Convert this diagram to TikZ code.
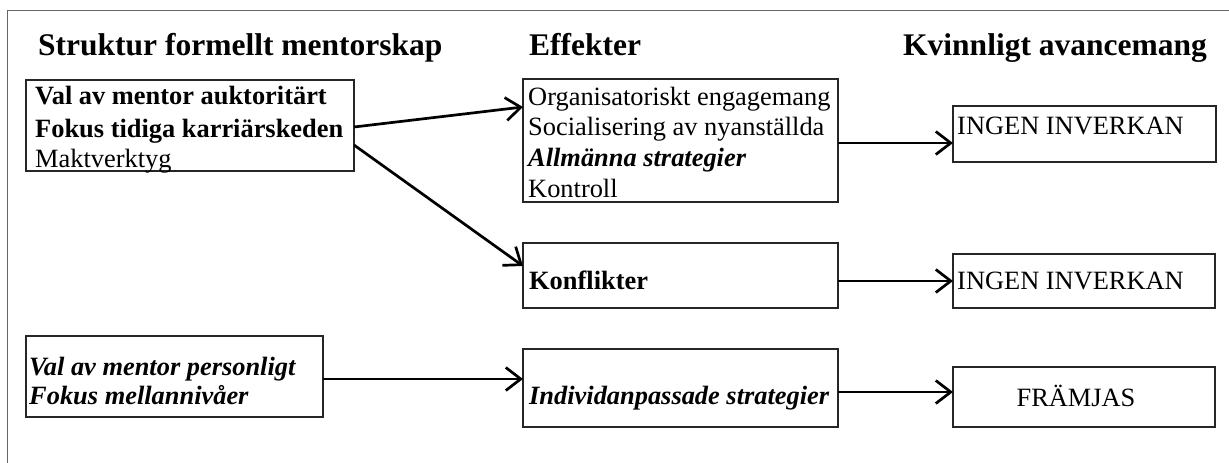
\documentclass[tikz,border=0pt]{standalone}
\usepackage{fontspec}
\setmainfont{Liberation Serif}
\usetikzlibrary{arrows.meta,calc}

\tikzset{
  frameline/.style={draw=black!60, line width=1pt},
  box/.style={draw=black!85, line width=1.1pt, rectangle, anchor=north west,
              inner sep=0pt, outer sep=0pt},
  headtxt/.style={font=\fontsize{31.5}{36}\selectfont\bfseries, anchor=base west, inner sep=0pt},
  txt/.style={font=\fontsize{26.4}{30}\selectfont, anchor=base west, inner sep=0pt},
  link/.style={line width=2.7pt, -{Straight Barb[length=15pt,width=23pt]}},
}

\begin{document}
\begin{tikzpicture}[x=1pt, y=-1pt]
  \useasboundingbox (0,0) rectangle (1229,463);

  % outer frame (left and top edges)
  \draw[frameline] (7,470) -- (7,10) -- (1235,10);

  % column headings
  \node[headtxt] (h1) at (38,55)  {Struktur formellt mentorskap};
  \node[headtxt] (h2) at (529,55) {Effekter};
  \node[headtxt] (h3) at (903,55) {Kvinnligt avancemang};

  % boxes
  \node[box, minimum width=328pt, minimum height=91pt]  (b1) at (26,80)   {};
  \node[box, minimum width=315pt, minimum height=123pt] (b2) at (523,79)  {};
  \node[box, minimum width=315pt, minimum height=65pt]  (b3) at (523,243) {};
  \node[box, minimum width=315pt, minimum height=78pt]  (b4) at (523,349) {};
  \node[box, minimum width=297pt, minimum height=81pt]  (b5) at (26,336)  {};
  \node[box, minimum width=263pt, minimum height=56pt]  (i1) at (953,106) {};
  \node[box, minimum width=262pt, minimum height=54pt]  (i2) at (953,254) {};
  \node[box, minimum width=262pt, minimum height=60pt]  (fr) at (953,367) {};

  % box texts
  \node[txt] (t1a) at (35,104) {\bfseries Val av mentor auktoritärt};
  \node[txt] (t1b) at (35,137) {\bfseries Fokus tidiga karriärskeden};
  \node[txt] (t1c) at (35,167) {Maktverktyg};

  \node[txt] (t2a) at (528,105) {Organisatoriskt engagemang};
  \node[txt] (t2b) at (528,135) {Socialisering av nyanställda};
  \node[txt] (t2c) at (528,166) {\bfseries\itshape Allmänna strategier};
  \node[txt] (t2d) at (528,197) {Kontroll};

  \node[txt] (t3) at (529,289) {\bfseries Konflikter};
  \node[txt] (t4) at (529,404) {\bfseries\itshape Individanpassade strategier};

  \node[txt] (t5a) at (29,375) {\bfseries\itshape Val av mentor personligt};
  \node[txt] (t5b) at (29,404) {\bfseries\itshape Fokus mellannivåer};

  \node[txt] (ti1) at (957,134) {INGEN INVERKAN};
  \node[txt] (ti2) at (957,289) {INGEN INVERKAN};
  \node[txt, anchor=base] (tfr) at (1076,406) {FRÄMJAS};

  % connectors
  \draw[link] ($(b1.north east)+(0,47)$) -- ($(b2.north west)+(0,28)$);
  \draw[link] ($(b1.north east)+(0,65)$) -- ($(b3.north west)+(0,23)$);
  \draw[link] ($(b2.north east)+(0,64)$) -- ($(i1.north west)+(0,37)$);
  \draw[link] ($(b3.north east)+(0,38)$) -- ($(i2.north west)+(0,27)$);
  \draw[link] ($(b5.north east)+(0,43)$) -- ($(b4.north west)+(0,30)$);
  \draw[link] ($(b4.north east)+(0,43)$) -- ($(fr.north west)+(0,25)$);
\end{tikzpicture}
\end{document}
